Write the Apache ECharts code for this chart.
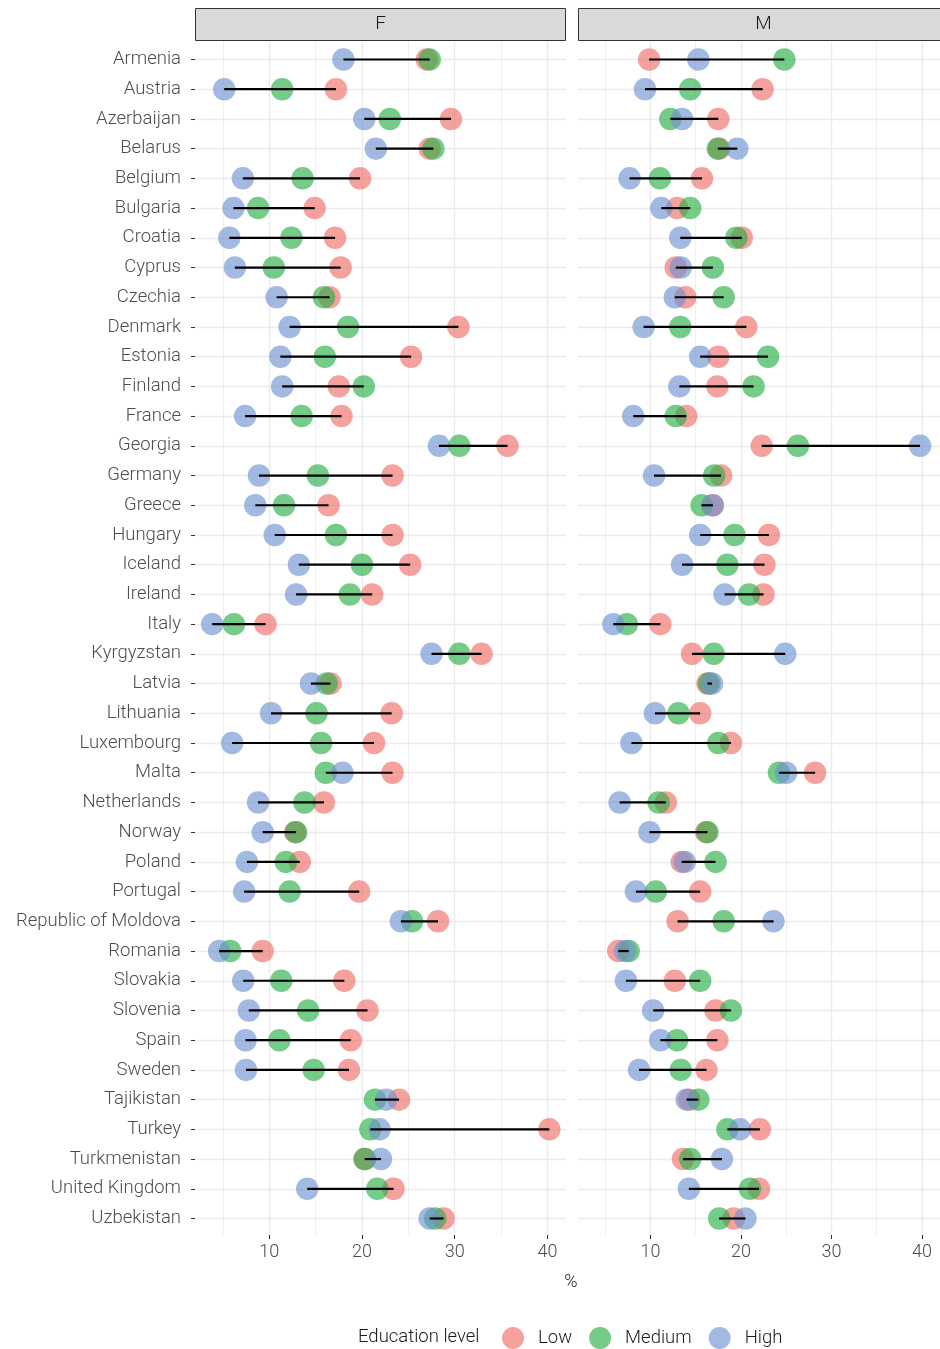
<!DOCTYPE html>
<html>
<head>
<meta charset="utf-8">
<script src="https://cdn.jsdelivr.net/npm/echarts@6/dist/echarts.min.js"></script>
<style>
html,body{margin:0;padding:0;background:#fff;}
#chart{width:940px;height:1349px;}
</style>
</head>
<body>
<div id="chart"></div>
<script>
const countries = ["Armenia","Austria","Azerbaijan","Belarus","Belgium","Bulgaria","Croatia","Cyprus","Czechia","Denmark","Estonia","Finland","France","Georgia","Germany","Greece","Hungary","Iceland","Ireland","Italy","Kyrgyzstan","Latvia","Lithuania","Luxembourg","Malta","Netherlands","Norway","Poland","Portugal","Republic of Moldova","Romania","Slovakia","Slovenia","Spain","Sweden","Tajikistan","Turkey","Turkmenistan","United Kingdom","Uzbekistan"];
const facets = ["F","M"];
const levels = ["Low","Medium","High"];
const xTicks = [10,20,30,40];

const fLow  = [27.0,17.2,29.6,27.3,19.8,14.9,17.1,17.7,16.5,30.4,25.3,17.5,17.8,35.7,23.3,16.4,23.3,25.2,21.1,9.6,32.9,16.6,23.2,21.3,23.3,15.9,12.8,13.3,19.7,28.2,9.3,18.1,20.6,18.8,18.6,24.0,40.2,20.3,23.4,28.8];
const fMed  = [27.3,11.4,23.0,27.7,13.6,8.8,12.4,10.5,15.9,18.5,16.0,20.2,13.5,30.5,15.25,11.6,17.2,20.0,18.7,6.2,30.5,16.2,15.1,15.6,16.1,13.8,12.9,11.8,12.2,25.4,5.8,11.3,14.2,11.1,14.8,21.4,20.9,20.3,21.65,27.9];
const fHigh = [18.0,5.15,20.25,21.5,7.16,6.15,5.7,6.3,10.8,12.2,11.2,11.4,7.4,28.3,8.9,8.5,10.6,13.2,12.9,3.85,27.5,14.5,10.2,6.0,17.9,8.8,9.3,7.6,7.3,24.2,4.6,7.2,7.8,7.45,7.5,22.6,21.9,22.05,14.1,27.3];

const mLow  = [9.86,22.4,17.5,17.6,15.7,12.95,20.1,12.8,13.85,20.6,17.5,17.4,13.96,22.3,17.8,16.85,23.1,22.6,22.5,11.1,14.6,16.3,15.5,18.9,28.2,11.7,16.15,13.46,15.5,13.0,6.45,12.7,17.2,17.4,16.2,14.3,22.1,13.6,22.0,19.2];
const mMed  = [24.8,14.4,12.2,17.45,11.05,14.4,19.5,16.9,18.1,13.3,23.0,21.4,12.8,26.3,17.05,15.65,19.3,18.5,20.9,7.4,17.0,16.5,13.1,17.5,24.2,10.9,16.3,17.2,10.6,18.1,7.6,15.5,18.9,12.95,13.35,15.3,18.5,14.4,21.0,17.6];
const mHigh = [15.3,9.4,13.5,19.6,7.7,11.2,13.3,13.35,12.7,9.25,15.5,13.2,8.1,39.8,10.4,16.9,15.5,13.5,18.2,5.9,24.9,16.8,10.5,7.9,25.0,6.6,9.9,13.8,8.4,23.6,7.2,7.3,10.3,11.1,8.75,14.0,19.9,17.9,14.25,20.5];

const FONT = 'Roboto';
const TXT = '#4d4d4d';
const GRIDC = '#ebebeb';
const colors = {Low:'rgba(239,110,103,0.8)', Medium:'rgba(39,174,69,0.8)', High:'rgba(109,146,209,0.8)'};

const panelData = [[fLow,fMed,fHigh],[mLow,mMed,mHigh]];
const panelLeft = [195, 578];
const panelW = 371;

const grids = [], xAxes = [], yAxes = [], series = [];
panelLeft.forEach((l) => { grids.push({left:l, top:59.5, width:panelW, height:1159}); });
panelLeft.forEach((l) => { grids.push({left:l, top:42, width:panelW, height:1193}); });

for (let p = 0; p < 2; p++) {
  xAxes.push({gridIndex:p, type:'value', min:2, max:42, show:false});
  yAxes.push({gridIndex:p, type:'category', data:countries, inverse:true, boundaryGap:false,
    axisLine:{show:false},
    axisTick:{show:p===0, length:4, lineStyle:{color:'#333', width:1}},
    axisLabel:{show:p===0, fontFamily:FONT, fontWeight:300, fontSize:18.5, color:TXT, margin:14, padding:[3,0,0,0]},
    splitLine:{show:true, lineStyle:{color:GRIDC, width:1.4}}});
}
for (let p = 0; p < 2; p++) {
  xAxes.push({gridIndex:2+p, type:'value', min:2, max:42,
    axisLine:{show:false},
    axisTick:{show:true, length:4, customValues:xTicks, lineStyle:{color:'#333', width:1}},
    axisLabel:{show:true, customValues:xTicks, fontFamily:FONT, fontWeight:300, fontSize:18, color:TXT, margin:8},
    splitLine:{show:true, lineStyle:{color:GRIDC, width:1.4}},
    minorTick:{show:false, splitNumber:2},
    minorSplitLine:{show:true, lineStyle:{color:GRIDC, width:0.8}}});
  yAxes.push({gridIndex:2+p, type:'value', min:0, max:1, show:false});
}

for (let p = 0; p < 2; p++) {
  const [lo, me, hi] = panelData[p];
  const arrs = {Low:lo, Medium:me, High:hi};
  levels.forEach(lv => {
    series.push({type:'scatter', name:lv, xAxisIndex:p, yAxisIndex:p, symbol:'circle', symbolSize:22.5,
      itemStyle:{color:colors[lv]}, z:3, silent:true,
      data: arrs[lv].map((v,i) => [v, i])});
  });
  const seg = countries.map((c,i) => {
    const vals = [lo[i], me[i], hi[i]];
    return [Math.min(...vals), Math.max(...vals), i];
  });
  series.push({type:'custom', xAxisIndex:p, yAxisIndex:p, z:5, silent:true,
    encode:{x:[0,1], y:2},
    renderItem:(params, api) => {
      const a = api.coord([api.value(0), api.value(2)]);
      const b = api.coord([api.value(1), api.value(2)]);
      return {type:'line', shape:{x1:a[0], y1:a[1], x2:b[0], y2:b[1]}, style:{stroke:'#000', lineWidth:2.2}};
    },
    data: seg});
}

const graphics = [];
facets.forEach((f, p) => {
  graphics.push({type:'rect', shape:{x:panelLeft[p]+0.5, y:8.5, width:panelW-1, height:32},
    style:{fill:'#d9d9d9', stroke:'#333', lineWidth:1}, z:10});
  graphics.push({type:'text', x:panelLeft[p]+panelW/2, y:24.5,
    style:{text:f, fontFamily:FONT, fontWeight:300, fontSize:19, fill:'#1a1a1a', textAlign:'center', textVerticalAlign:'middle'}, z:11});
});
graphics.push({type:'text', x:571, y:1282, style:{text:'%', fontFamily:FONT, fontWeight:300, fontSize:18, fill:'#1a1a1a', textAlign:'center', textVerticalAlign:'middle'}});
graphics.push({type:'text', x:358, y:1337.5, style:{text:'Education level', fontFamily:FONT, fontWeight:300, fontSize:18.5, fill:'#1a1a1a', textAlign:'left', textVerticalAlign:'middle'}});

const option = {
  animation:false,
  backgroundColor:'#fff',
  grid:grids, xAxis:xAxes, yAxis:yAxes, series:series, graphic:graphics,
  legend:{data:levels, left:497, top:1322, itemWidth:22, itemHeight:22, itemGap:17, icon:'circle',
    selectedMode:false,
    textStyle:{fontFamily:FONT, fontWeight:300, fontSize:18.5, color:'#1a1a1a', padding:[0,0,0,9]}}
};
const chart = echarts.init(document.getElementById('chart'), null, {renderer:'canvas'});
chart.setOption(option);
</script>
</body>
</html>
